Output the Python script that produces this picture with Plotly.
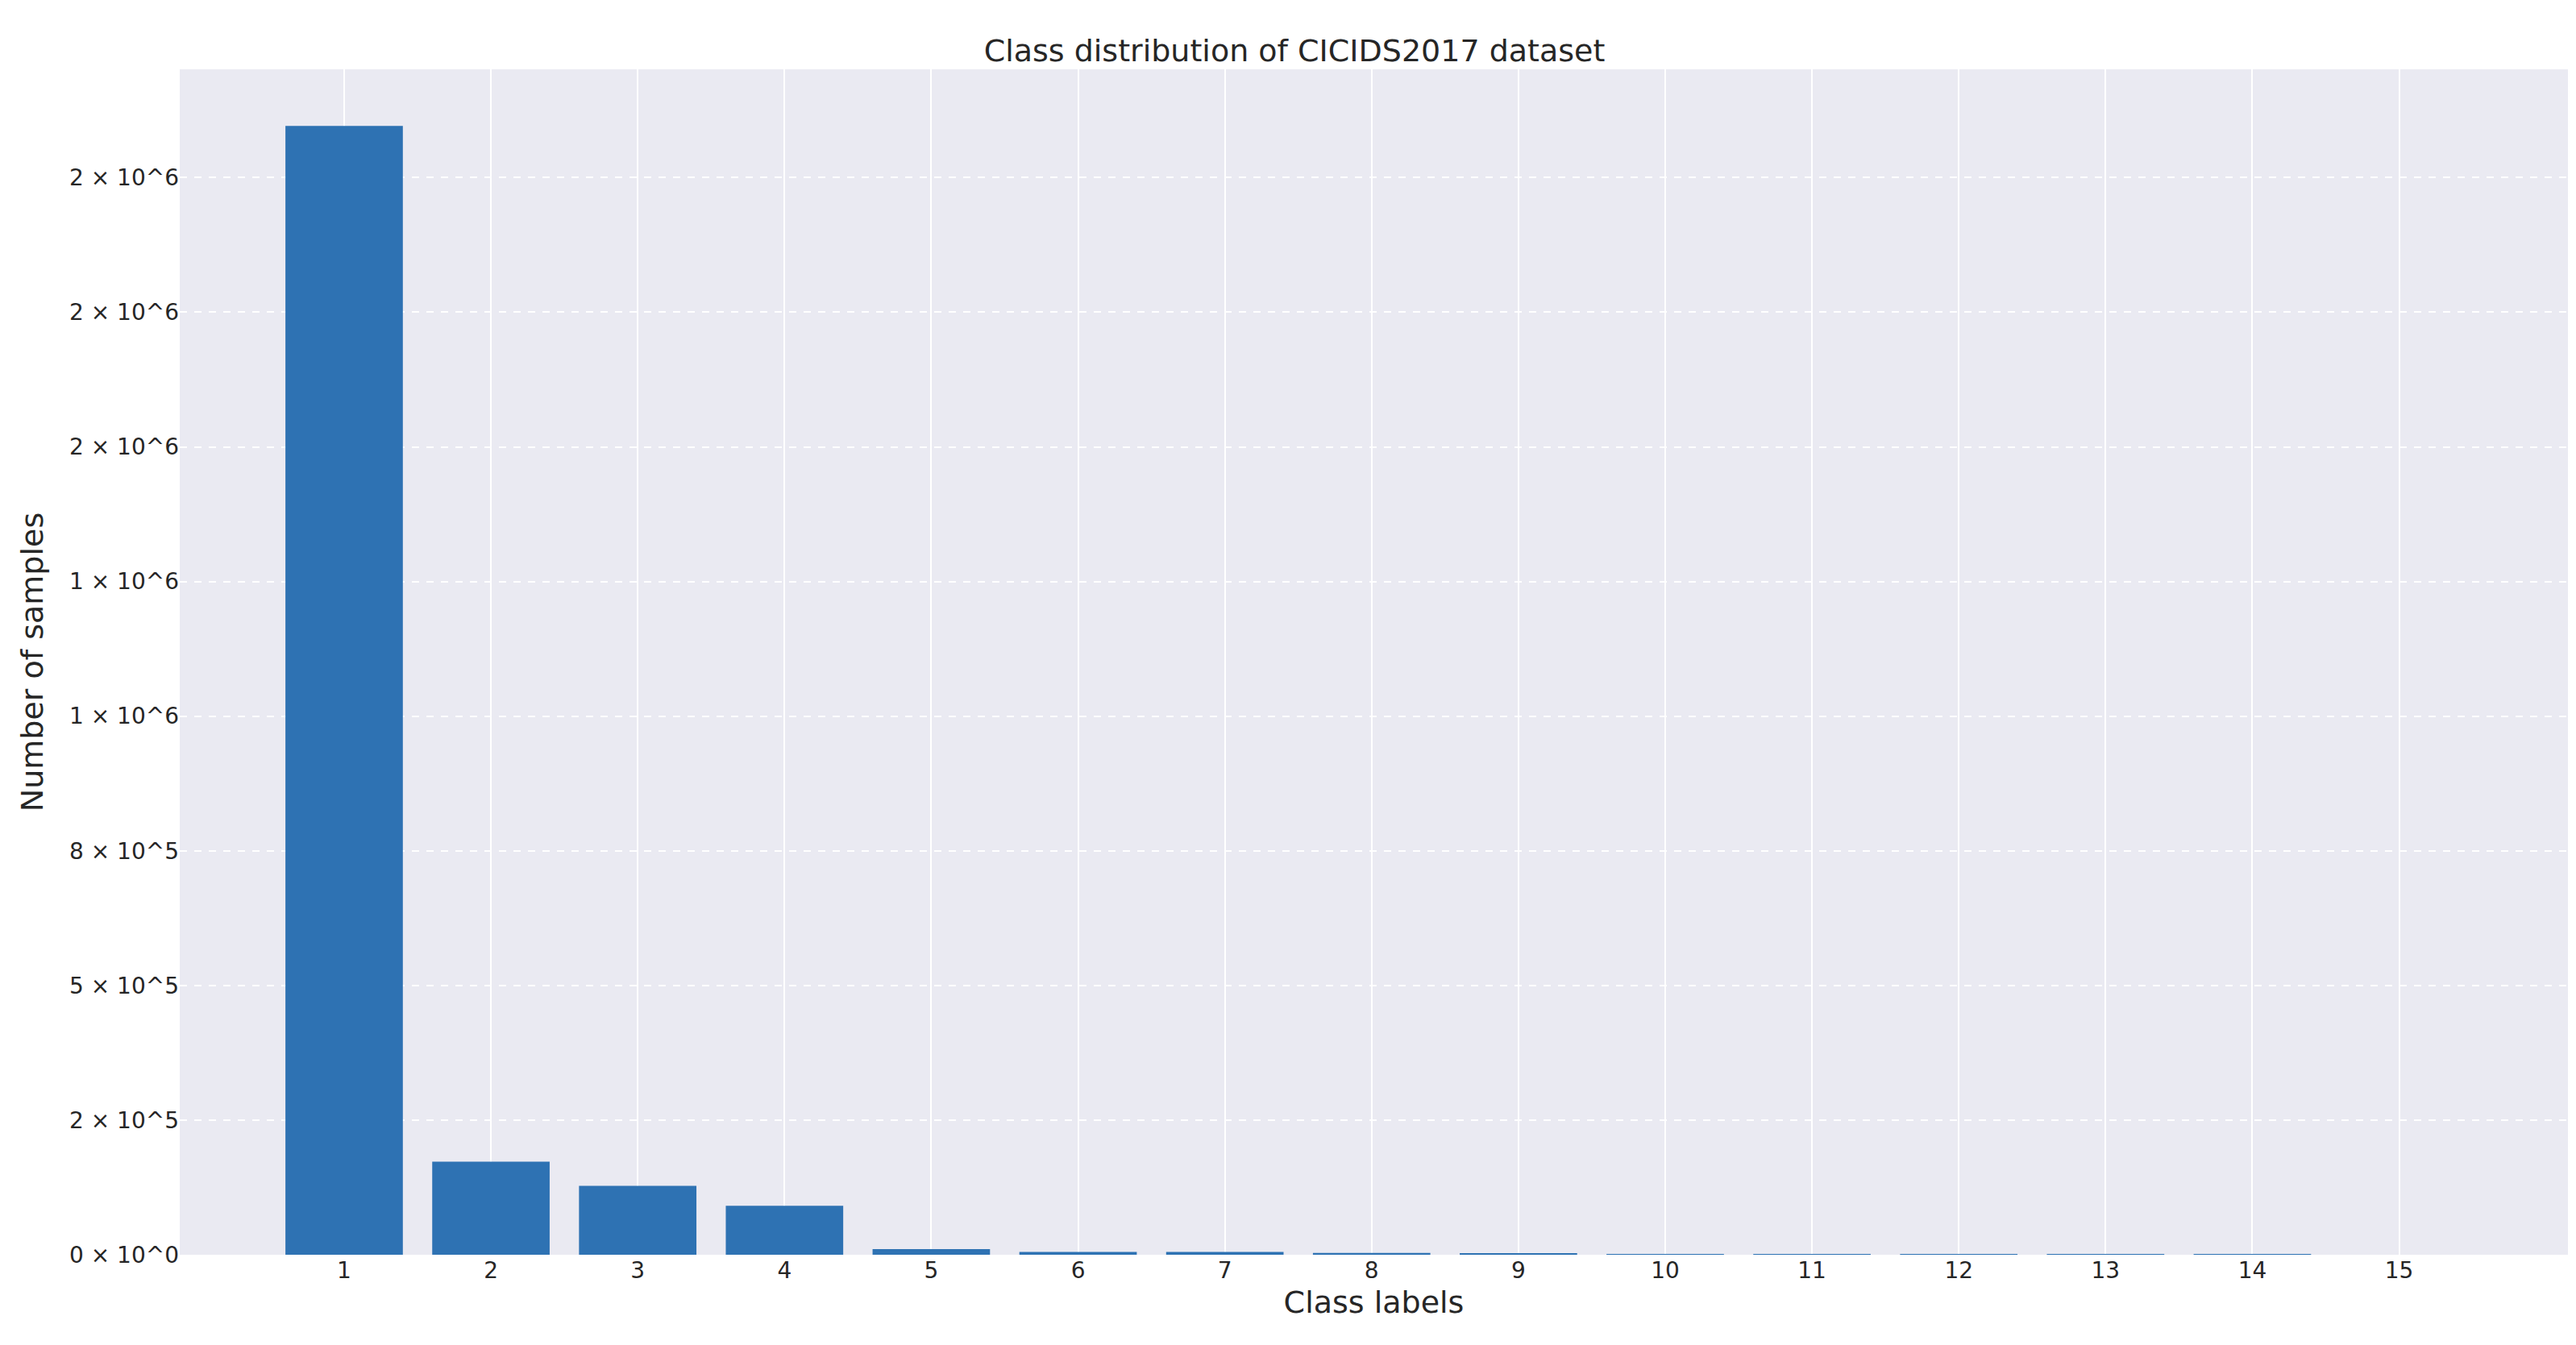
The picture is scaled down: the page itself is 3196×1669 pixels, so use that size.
import plotly.graph_objects as go

# Class labels and sample counts
labels = list(range(1, 16))
counts = [2096000, 173000, 128000, 91000, 10300, 5400, 5200, 3200, 2000, 1500, 650, 36, 21, 11, 5]

tick_vals = [0, 250000, 500000, 750000, 1000000, 1250000, 1500000, 1750000, 2000000]
tick_text = ["0 × 10^0", "2 × 10^5", "5 × 10^5", "8 × 10^5", "1 × 10^6",
             "1 × 10^6", "2 × 10^6", "2 × 10^6", "2 × 10^6"]

fig = go.Figure(go.Bar(x=labels, y=counts, width=0.8,
                       marker=dict(color="#2E72B3", line=dict(width=0))))

fig.update_layout(
    width=3196, height=1669,
    paper_bgcolor="white", plot_bgcolor="#EAEAF2",
    margin=dict(l=215, r=18, t=78, b=120),
    font=dict(family="DejaVu Sans", color="#262626"),
    title=dict(text="Class distribution of CICIDS2017 dataset", x=0.5, xanchor="center",
               y=0.975, font=dict(size=38)),
    showlegend=False,
)
fig.update_xaxes(tickmode="array", tickvals=labels, ticktext=[str(v) for v in labels],
                 range=[-0.12, 16.15], showgrid=True, gridcolor="white", gridwidth=2,
                 zeroline=False, tickfont=dict(size=28),
                 title=dict(text="Class labels", font=dict(size=38), standoff=10))
fig.update_yaxes(tickmode="array", tickvals=tick_vals, ticktext=tick_text,
                 range=[0, 2201000], showgrid=True, gridcolor="white", gridwidth=1.5,
                 griddash="dash", zeroline=False, tickfont=dict(size=28),
                 title=dict(text="Number of samples", font=dict(size=38), standoff=20))

fig.write_html("out.html")
